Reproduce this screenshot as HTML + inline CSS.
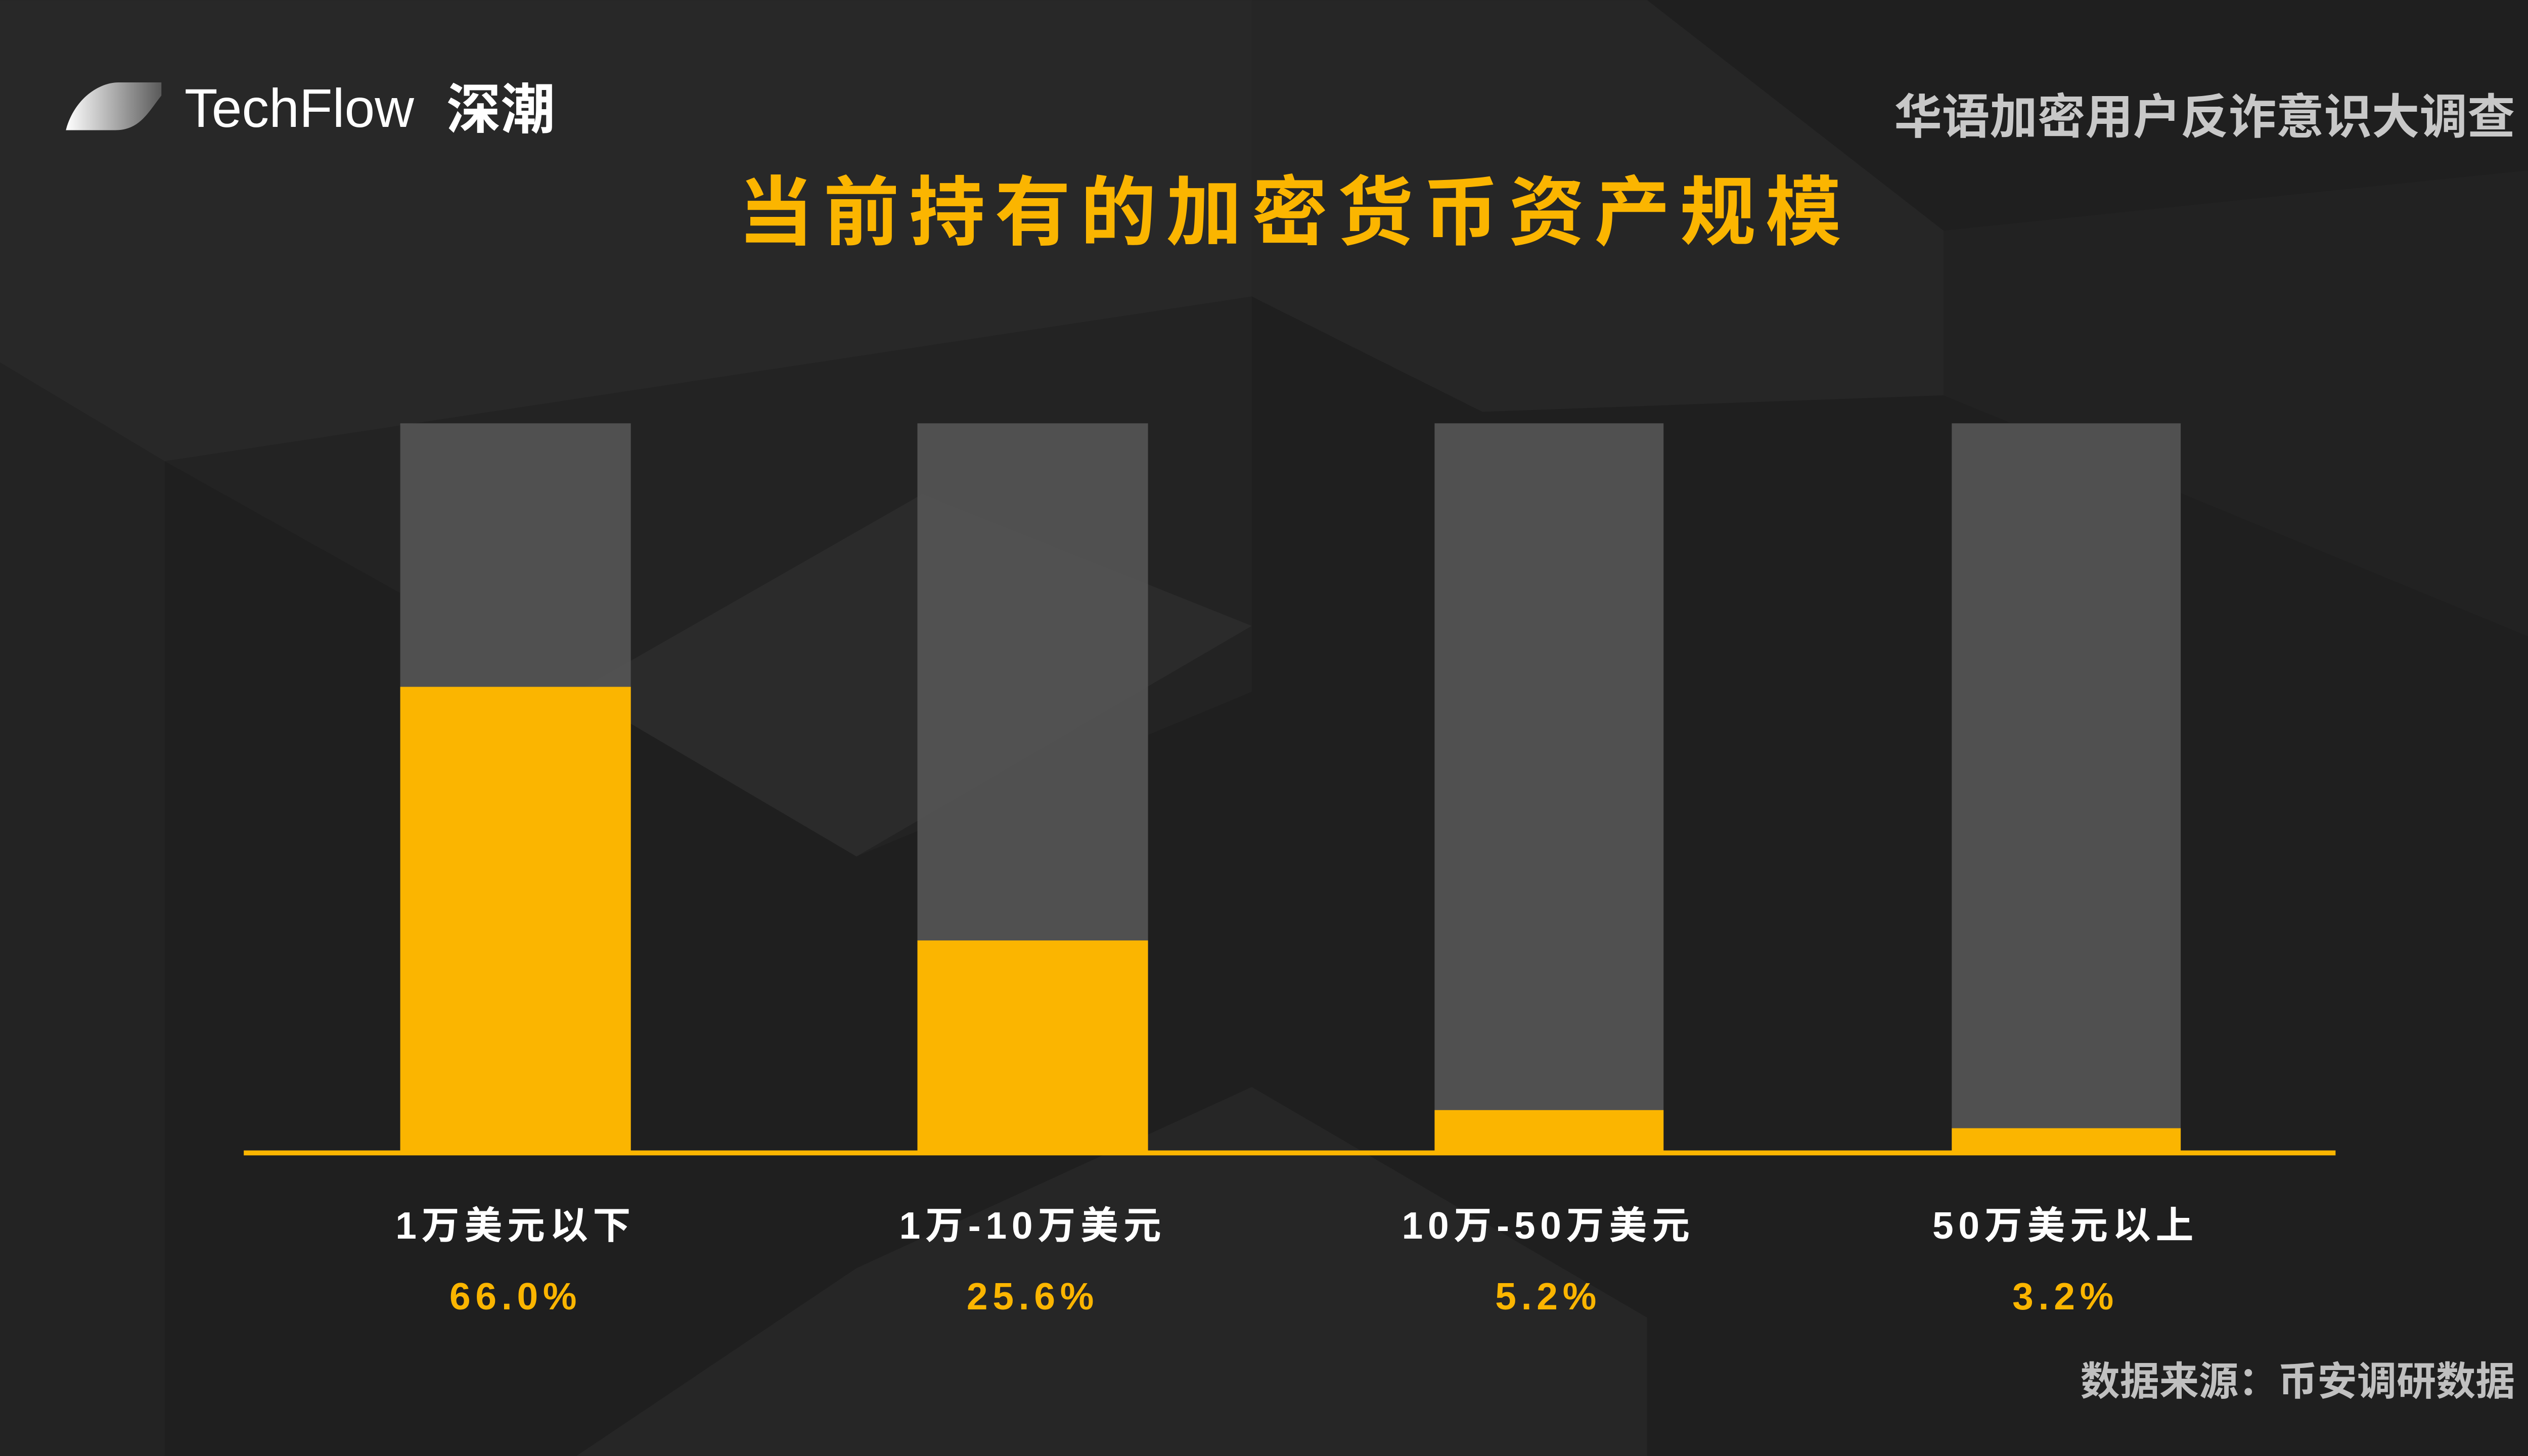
<!DOCTYPE html>
<html><head><meta charset="utf-8"><style>
html,body{margin:0;padding:0;background:#1f1f1f;}
svg{display:block;}
</style></head><body>
<svg width="5108" height="2880" viewBox="0 0 1568 884" xmlns="http://www.w3.org/2000/svg">
<defs>
<linearGradient id="lg" x1="0" x2="1" y1="0" y2="0"><stop offset="0" stop-color="#ffffff"/><stop offset="1" stop-color="#5a5a5a"/></linearGradient>
</defs>
<rect width="1568" height="884" fill="#1f1f1f"/>
<g fill="#ffffff">
<polygon points="0,0 760,0 760,180 100,280 0,220" opacity="0.045"/>
<polygon points="760,0 1000,0 1180,140 1180,240 900,250 760,180" opacity="0.03"/>
<polygon points="100,280 760,180 760,420 520,520 350,420 100,280" opacity="0.02"/>
<polygon points="350,420 560,300 760,380 520,520" opacity="0.04"/>
<polygon points="0,220 100,280 100,884 0,884" opacity="0.02"/>
<polygon points="350,884 520,770 760,660 1000,800 1000,884" opacity="0.035"/>
<polygon points="1180,140 1568,100 1568,400 1180,240" opacity="0.015"/>
</g>
<!-- logo -->
<path d="M40,79 C45,60 60,50 72,50 L98,50 L98,58 C90,68 85,79 70,79 Z" fill="url(#lg)"/>
<text x="112" y="77" font-family="Liberation Sans, sans-serif" font-size="33" fill="#fff">TechFlow</text>
<text x="271" y="78" font-family="Liberation Sans, 'Noto Sans CJK SC', sans-serif" font-size="33" font-weight="bold" fill="#fff">深潮</text>
<text x="1527" y="81" text-anchor="end" font-family="Liberation Sans, 'Noto Sans CJK SC', sans-serif" font-size="29" font-weight="bold" fill="#c8c8c8">华语加密用户反诈意识大调查</text>
<text x="786" y="145" text-anchor="middle" font-family="Liberation Sans, 'Noto Sans CJK SC', sans-serif" font-size="46" font-weight="bold" fill="#fbb500" letter-spacing="6">当前持有的加密货币资产规模</text>
<!-- bars -->
<g fill="#555555" opacity="0.92">
<rect x="243" y="257" width="140" height="443"/>
<rect x="557" y="257" width="140" height="443"/>
<rect x="871" y="257" width="139" height="443"/>
<rect x="1185" y="257" width="139" height="443"/>
</g>
<g fill="#fbb500">
<rect x="243" y="417" width="140" height="283"/>
<rect x="557" y="571" width="140" height="129"/>
<rect x="871" y="674" width="139" height="26"/>
<rect x="1185" y="685" width="139" height="15"/>
<rect x="148" y="698.5" width="1270" height="3"/>
</g>
<g font-family="Liberation Sans, 'Noto Sans CJK SC', sans-serif" font-size="23" font-weight="bold" text-anchor="middle" letter-spacing="3">
<text x="313" y="752" fill="#fff">1万美元以下</text>
<text x="627" y="752" fill="#fff">1万-10万美元</text>
<text x="940" y="752" fill="#fff">10万-50万美元</text>
<text x="1254" y="752" fill="#fff">50万美元以上</text>
<text x="313" y="795" fill="#fbb500">66.0%</text>
<text x="627" y="795" fill="#fbb500">25.6%</text>
<text x="940" y="795" fill="#fbb500">5.2%</text>
<text x="1254" y="795" fill="#fbb500">3.2%</text>
</g>
<text x="1527" y="847" text-anchor="end" font-family="Liberation Sans, 'Noto Sans CJK SC', sans-serif" font-size="24" font-weight="bold" fill="#c0c0c0">数据来源：币安调研数据</text>
</svg>
</body></html>
